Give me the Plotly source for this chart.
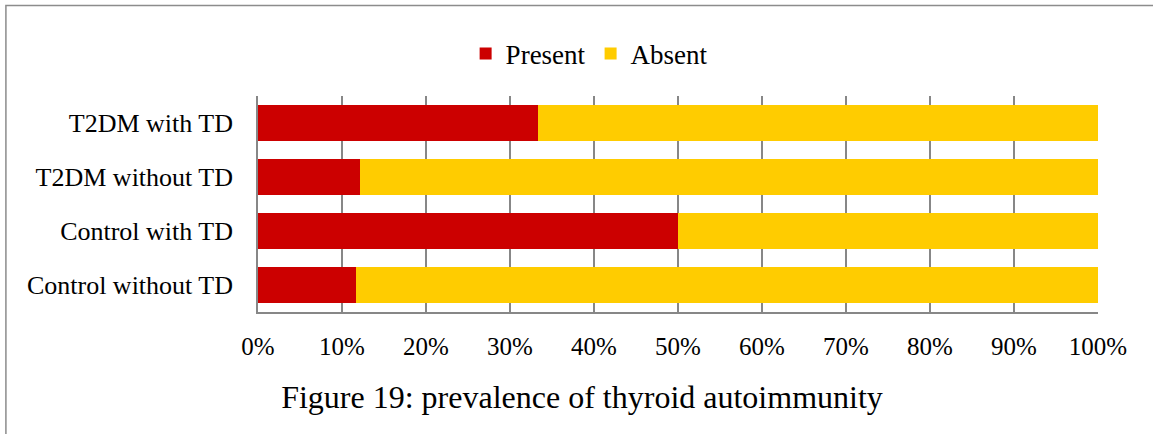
import plotly.graph_objects as go

categories = ["T2DM with TD", "T2DM without TD", "Control with TD", "Control without TD"]
present = [33.3, 12.2, 50.0, 11.7]
absent = [100 - v for v in present]
tick_vals = [0, 10, 20, 30, 40, 50, 60, 70, 80, 90, 100]
tick_text = [f"{v}%" for v in tick_vals]

W, H = 1153, 434
L, R, T, B = 258, 1097.7, 96, 312  # plot area in pixels

def px_to_paper_x(px):
    return (px - L) / (R - L)

def px_to_paper_y(py):
    return (B - py) / (B - T)

FONT = "Liberation Serif"
GRID = "#878787"

fig = go.Figure()
fig.add_trace(go.Bar(y=categories, x=present, name="Present", orientation="h",
                     marker=dict(color="#CC0000", line=dict(width=0))))
fig.add_trace(go.Bar(y=categories, x=absent, name="Absent", orientation="h",
                     marker=dict(color="#FFCC00", line=dict(width=0))))

fig.update_layout(
    width=W, height=H,
    margin=dict(l=L, r=W - R, t=T, b=H - B, pad=0),
    barmode="stack", bargap=0.35,
    paper_bgcolor="white", plot_bgcolor="white",
    font=dict(family=FONT, color="black", size=26),
    showlegend=True,
    legend=dict(orientation="h", x=px_to_paper_x(589), y=px_to_paper_y(54),
                xanchor="center", yanchor="middle",
                font=dict(size=27, family=FONT, color="black"),
                traceorder="normal", itemwidth=30, bgcolor="rgba(0,0,0,0)"),
    title=dict(text="Figure 19: prevalence of thyroid autoimmunity",
               x=582 / W, y=1 - 397 / H, xanchor="center", yanchor="middle",
               xref="container", yref="container",
               font=dict(size=32, family=FONT, color="black")),
    xaxis=dict(range=[0, 100], tickvals=tick_vals, ticktext=tick_text,
               showgrid=True, gridcolor=GRID, gridwidth=1.6,
               showline=True, linecolor=GRID, linewidth=1.6, mirror=False,
               zeroline=False, ticks="", ticklabelstandoff=11,
               tickfont=dict(size=25, family=FONT, color="black"), fixedrange=True),
    yaxis=dict(categoryorder="array", categoryarray=categories, autorange="reversed",
               showgrid=False, showline=True, linecolor=GRID, linewidth=1.6,
               ticks="", ticklabelstandoff=18,
               tickfont=dict(size=26, family=FONT, color="black"), fixedrange=True),
)

# outer frame (top and left edges visible in the reference)
fig.add_shape(type="path", xref="paper", yref="paper",
              path=f"M {px_to_paper_x(6)} {px_to_paper_y(440)} L {px_to_paper_x(6)} {px_to_paper_y(5.5)} L {px_to_paper_x(1160)} {px_to_paper_y(5.5)}",
              line=dict(color="#8c8c8c", width=1.5), layer="above")

fig.write_html("out.html", config={"displayModeBar": False},
               post_script="document.body.style.margin='0';document.body.style.overflow='hidden';")
